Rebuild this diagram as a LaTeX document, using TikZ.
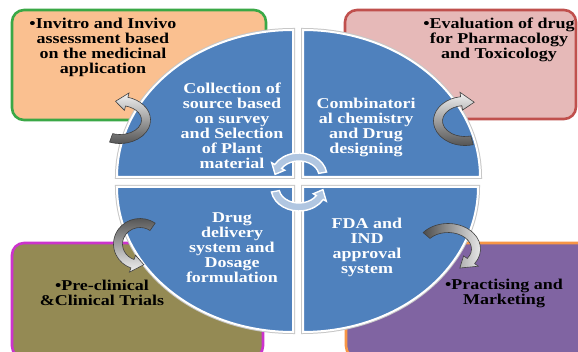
\documentclass[tikz,border=0pt]{standalone}
\usepackage{fontspec}
\newfontfamily\labelfont[FakeStretch=1.2]{Liberation Serif}
\definecolor{quadblue}{RGB}{79,129,189}
\definecolor{peach}{RGB}{250,192,144}
\definecolor{leafgreen}{RGB}{58,168,70}
\definecolor{rosefill}{RGB}{230,185,184}
\definecolor{rosedraw}{RGB}{192,80,77}
\definecolor{olivefill}{RGB}{148,138,84}
\definecolor{magentadraw}{RGB}{204,51,204}
\definecolor{violetfill}{RGB}{128,100,162}
\definecolor{orangedraw}{RGB}{247,150,70}

% band-shaped curved arrow along an elliptical arc
% #1 style, #2 cx, #3 cy, #4 x radius, #5 y radius,
% #6 tail angle, #7 angle of the head base, #8 angle of the tip
% uses \bhw (half band width) and \hhw (half head width)
\newcommand{\bandarrow}[8]{%
  \pgfmathsetmacro\brao{#4+\bhw}\pgfmathsetmacro\brbo{#5+\bhw}%
  \pgfmathsetmacro\brai{#4-\bhw}\pgfmathsetmacro\brbi{#5-\bhw}%
  \pgfmathsetmacro\bxs{#2+\brao*cos(#6)}\pgfmathsetmacro\bys{#3+\brbo*sin(#6)}%
  \pgfmathsetmacro\bxo{#2+(#4+\hhw)*cos(#7)}\pgfmathsetmacro\byo{#3+(#5+\hhw)*sin(#7)}%
  \pgfmathsetmacro\bxt{#2+#4*cos(#8)}\pgfmathsetmacro\byt{#3+#5*sin(#8)}%
  \pgfmathsetmacro\bxh{#2+(#4-\hhw)*cos(#7)}\pgfmathsetmacro\byh{#3+(#5-\hhw)*sin(#7)}%
  \pgfmathsetmacro\bxi{#2+\brai*cos(#7)}\pgfmathsetmacro\byi{#3+\brbi*sin(#7)}%
  \path[#1] (\bxs,\bys)
    arc[start angle=#6, end angle=#7, x radius=\brao, y radius=\brbo]
    -- (\bxo,\byo) -- (\bxt,\byt) -- (\bxh,\byh) -- (\bxi,\byi)
    arc[start angle=#7, end angle=#6, x radius=\brai, y radius=\brbi] -- cycle;}

\begin{document}
\begin{tikzpicture}[x=1pt,y=-1pt,
  panel/.style={line width=2.6pt, rounded corners=12pt},
  quad/.style={fill=quadblue, draw=white, line width=2pt,
    preaction={draw=black!22, line width=4pt}},
  boxtext/.style={font=\labelfont\bfseries\fontsize{15}{15}\selectfont,
    align=center, inner sep=0pt, text=black},
  quadtext/.style={boxtext, text=white},
  greyarrow/.style={draw=black!75, line width=0.6pt},
  cyclearrow/.style={fill=white!55!quadblue, draw=white, line width=1.4pt}]

\useasboundingbox (0,0) rectangle (578,352);
\clip (0,0) rectangle (578,352);
\fill[white] (0,0) rectangle (578,352);

% outer panels
\draw[panel, draw=leafgreen, fill=peach] (12,10) rectangle (266,120);
\draw[panel, draw=rosedraw, fill=rosefill] (345,10) rectangle (576,119);
\draw[panel, draw=magentadraw, fill=olivefill] (12,243) rectangle (263,358);
\draw[panel, draw=orangedraw, fill=violetfill] (346,243) rectangle (600,358);

\node[boxtext] (invitro) at (103,47)
  {•Invitro and Invivo\\assessment based\\on the medicinal\\application};
\node[boxtext] (evaluation) at (499,40)
  {•Evaluation of drug\\for Pharmacology\\and Toxicology};
\node[boxtext] (trials) at (102,293)
  {•Pre-clinical\\\&Clinical Trials};
\node[boxtext] (marketing) at (504,293)
  {•Practising and\\Marketing};

% four quadrants of the central disc
\path[quad] (293,177) -- (117,177)
  arc[start angle=180, end angle=270, x radius=176, y radius=147] -- cycle;
\path[quad] (303,177) -- (303,30)
  arc[start angle=270, end angle=360, x radius=177, y radius=147] -- cycle;
\path[quad] (293,187) -- (117,187)
  arc[start angle=180, end angle=90, x radius=176, y radius=145] -- cycle;
\path[quad] (303,187) -- (303,332)
  arc[start angle=90, end angle=0, x radius=175, y radius=145] -- cycle;

\node[quadtext] (collection) at (232,126)
  {Collection of\\source based\\on survey\\and Selection\\of Plant\\material};
\node[quadtext] (combinatorial) at (366,127)
  {Combinatori\\al chemistry\\and Drug\\designing};
\node[quadtext] (delivery) at (232,248)
  {Drug\\delivery\\system and\\Dosage\\formulation};
\node[quadtext] (fda) at (367,247)
  {FDA and\\IND\\approval\\system};

% curved arrows from the disc out to the panels
\def\bhw{4.5}\def\hhw{9}
\bandarrow{greyarrow, top color=gray!10, bottom color=black!70}{120}{120}{26}{19}{110}{-75}{-100}
\bandarrow{greyarrow, top color=gray!10, bottom color=black!70}{465}{121}{27}{20}{75}{262}{290}
\bandarrow{greyarrow, top color=black!70, bottom color=gray!10}{140}{244}{22}{21}{-55}{-250}{-280}
\bandarrow{greyarrow, left color=black!70, right color=gray!10}{448}{249}{28}{21}{-140}{35}{65}

% cycle arrows in the middle
\def\bhw{4}\def\hhw{7.5}
\bandarrow{cyclearrow}{299}{176}{24}{19}{-10}{-150}{-175}
\bandarrow{cyclearrow}{299}{188}{24}{19}{170}{30}{5}
\end{tikzpicture}
\end{document}
